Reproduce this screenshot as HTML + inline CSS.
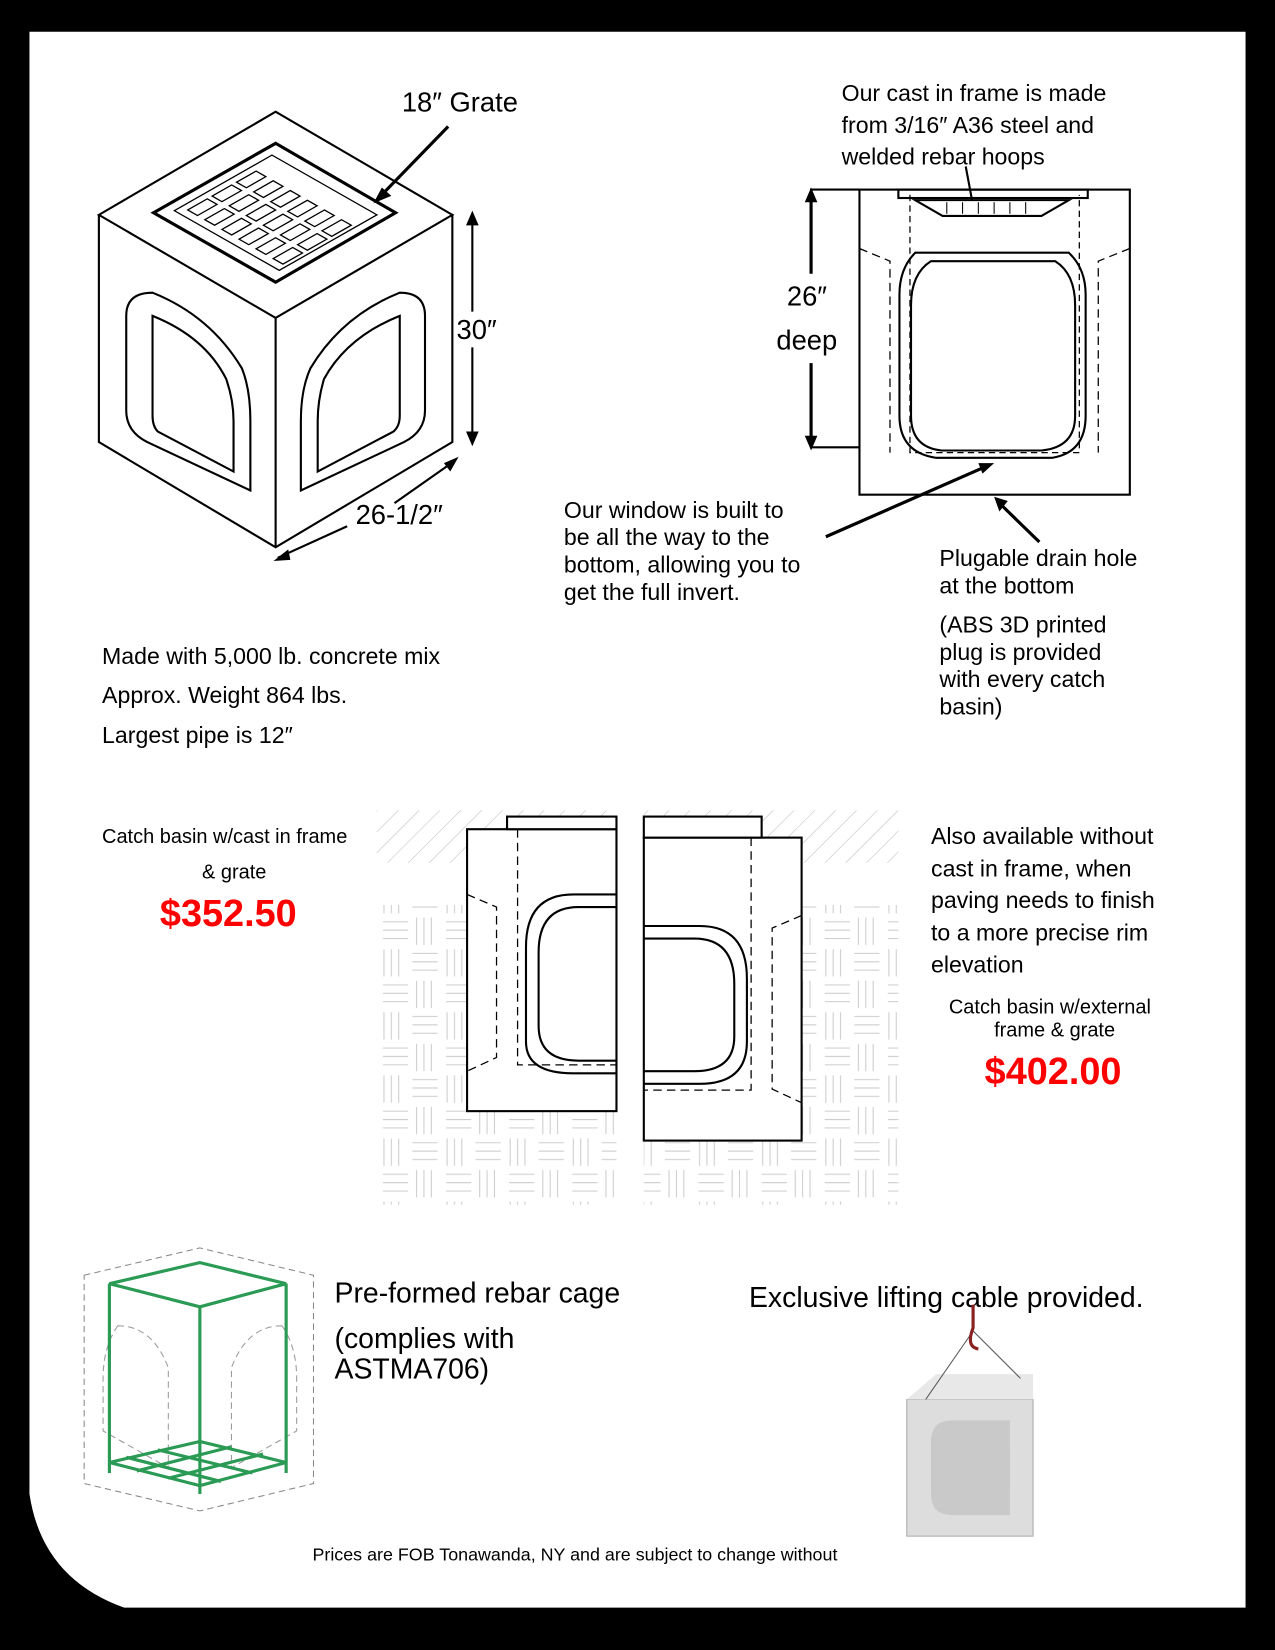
<!DOCTYPE html>
<html><head><style>
html,body{margin:0;padding:0;background:#000;}
svg{display:block}
text{font-family:"Liberation Sans",sans-serif;fill:#000}
</style></head><body>
<svg width="1275" height="1650" viewBox="0 0 1212 1568" xmlns="http://www.w3.org/2000/svg">
<defs>
<pattern id="hatch" width="14" height="14" patternUnits="userSpaceOnUse" patternTransform="rotate(45)"><line x1="0" y1="0" x2="0" y2="14" stroke="#bbb" stroke-width="1"/></pattern>
<pattern id="brick" width="60" height="60" patternUnits="userSpaceOnUse">
<g stroke="#ccc" stroke-width="1"><line x1="5" y1="2" x2="5" y2="28"/><line x1="12" y1="2" x2="12" y2="28"/><line x1="19" y1="2" x2="19" y2="28"/>
<line x1="32" y1="6" x2="56" y2="6"/><line x1="32" y1="14" x2="56" y2="14"/><line x1="32" y1="22" x2="56" y2="22"/>
<line x1="4" y1="36" x2="28" y2="36"/><line x1="4" y1="44" x2="28" y2="44"/><line x1="4" y1="52" x2="28" y2="52"/>
<line x1="36" y1="32" x2="36" y2="58"/><line x1="43" y1="32" x2="43" y2="58"/><line x1="50" y1="32" x2="50" y2="58"/></g></pattern>
</defs>
<rect width="1212" height="1568" fill="#000"/>
<path d="M28 30 H1184 V1528 H118 Q40 1500 28 1420 Z" fill="#fff"/>
<rect x="358" y="770" width="228" height="50" fill="url(#hatch)"/>
<rect x="612" y="770" width="242" height="50" fill="url(#hatch)"/>
<rect x="358" y="860" width="228" height="285" fill="url(#brick)"/>
<rect x="612" y="860" width="242" height="285" fill="url(#brick)"/>
<g fill="none" stroke="#000" stroke-width="2">
<!-- cube -->
<polygon points="94,204 262,106 430,204 262,302"/>
<polyline points="94,204 94,420 262,520 430,420 430,204"/>
<line x1="262" y1="302" x2="262" y2="520"/>
<polygon points="146,202 262,136 376,202 262,268" stroke-width="3"/>
<g transform="matrix(116,-66,116,66,146,202)" stroke-width="1.3">
<g vector-effect="non-scaling-stroke">
<rect x="0.1" y="0.07" width="0.8" height="0.86" vector-effect="non-scaling-stroke"/>
<rect x="0.16" y="0.12" width="0.16" height="0.08" vector-effect="non-scaling-stroke"/><rect x="0.36" y="0.12" width="0.16" height="0.08" vector-effect="non-scaling-stroke"/><rect x="0.56" y="0.12" width="0.16" height="0.08" vector-effect="non-scaling-stroke"/>
<rect x="0.16" y="0.26" width="0.16" height="0.08" vector-effect="non-scaling-stroke"/><rect x="0.36" y="0.26" width="0.16" height="0.08" vector-effect="non-scaling-stroke"/><rect x="0.56" y="0.26" width="0.16" height="0.08" vector-effect="non-scaling-stroke"/>
<rect x="0.16" y="0.40" width="0.16" height="0.08" vector-effect="non-scaling-stroke"/><rect x="0.36" y="0.40" width="0.16" height="0.08" vector-effect="non-scaling-stroke"/><rect x="0.56" y="0.40" width="0.16" height="0.08" vector-effect="non-scaling-stroke"/>
<rect x="0.16" y="0.54" width="0.16" height="0.08" vector-effect="non-scaling-stroke"/><rect x="0.36" y="0.54" width="0.16" height="0.08" vector-effect="non-scaling-stroke"/><rect x="0.56" y="0.54" width="0.16" height="0.08" vector-effect="non-scaling-stroke"/>
<rect x="0.16" y="0.68" width="0.16" height="0.08" vector-effect="non-scaling-stroke"/><rect x="0.36" y="0.68" width="0.16" height="0.08" vector-effect="non-scaling-stroke"/><rect x="0.56" y="0.68" width="0.16" height="0.08" vector-effect="non-scaling-stroke"/>
<rect x="0.16" y="0.82" width="0.16" height="0.08" vector-effect="non-scaling-stroke"/><rect x="0.36" y="0.82" width="0.16" height="0.08" vector-effect="non-scaling-stroke"/><rect x="0.56" y="0.82" width="0.16" height="0.08" vector-effect="non-scaling-stroke"/>
</g></g>
<path d="M120 300 Q120 278 145 278 Q200 300 230 350 Q238 370 238 400 V466 L140 420 Q120 410 120 390 Z"/>
<path d="M145 300 Q195 320 215 360 Q222 380 222 400 V448 L150 410 Q145 405 145 395 Z"/>
<path d="M404 300 Q404 278 380 278 Q325 300 295 350 Q286 370 286 400 V466 L384 420 Q404 410 404 390 Z"/>
<path d="M380 300 Q330 320 308 360 Q302 380 302 400 V448 L374 410 Q380 405 380 395 Z"/>
<line x1="449" y1="208" x2="449" y2="296"/><line x1="449" y1="330" x2="449" y2="418"/>
<line x1="264" y1="530" x2="330" y2="500"/><line x1="375" y1="478" x2="432" y2="438"/>
<line x1="360" y1="188" x2="426" y2="120" stroke-width="3"/>
<!-- side view -->
<rect x="817" y="180" width="257" height="290"/>
<line x1="770" y1="180" x2="817" y2="180"/><line x1="770" y1="425" x2="817" y2="425"/>
<line x1="771" y1="185" x2="771" y2="260" stroke-width="3"/><line x1="771" y1="345" x2="771" y2="420" stroke-width="3"/>
<rect x="854" y="180" width="180" height="8" stroke-width="2"/>
<path d="M870 190 H1016 L990 205 H896 Z"/>
<path d="M900 192 V203 M915 192 V203 M930 192 V203 M945 192 V203 M960 192 V203 M975 192 V203" stroke-width="1"/>
<path d="M865 185 V430 H1026 V185" stroke-dasharray="6 4" stroke-width="1.2"/>
<path d="M870 240 Q855 255 855 280 V395 Q855 430 890 435 H1000 Q1032 430 1032 395 V280 Q1032 255 1016 240 Z"/>
<path d="M885 248 Q866 260 866 290 V395 Q866 425 895 428 H990 Q1022 425 1022 395 V290 Q1022 260 1003 248 Z"/>
<g stroke-dasharray="8 5" stroke-width="1.2">
<path d="M817 236 L846 248 V430"/><path d="M1074 236 L1044 248 V430"/>
</g>
<line x1="785" y1="510" x2="940" y2="442" stroke-width="3"/>
<line x1="988" y1="515" x2="950" y2="478" stroke-width="3"/>
<line x1="918" y1="158" x2="924" y2="190" stroke-width="2"/>
</g>
<g fill="#000">
<polygon points="449,200 443,214 455,214"/><polygon points="449,424 443,410 455,410"/>
<polygon points="771,178 765,192 777,192"/><polygon points="771,428 765,414 777,414"/>
<polygon points="260,533 274,522 276,532"/><polygon points="436,434 422,440 428,448"/>
<polygon points="945,440 930,440 934,450"/><polygon points="945,472 958,476 950,486"/>
<polygon points="355,193 363,178 372,186"/>
</g>
<g font-size="26"><text x="382" y="106">18″ Grate</text><text x="434" y="322">30″</text><text x="338" y="498">26-1/2″</text>
<text x="748" y="290">26″</text><text x="738" y="332">deep</text></g>
<g font-size="22">
<text x="800" y="96">Our cast in frame is made</text><text x="800" y="126">from 3/16″ A36 steel and</text><text x="800" y="156">welded rebar hoops</text>
<text x="536" y="492">Our window is built to</text><text x="536" y="518">be all the way to the</text><text x="536" y="544">bottom, allowing you to</text><text x="536" y="570">get the full invert.</text>
<text x="893" y="538">Plugable drain hole</text><text x="893" y="564">at the bottom</text>
<text x="893" y="601">(ABS 3D printed</text><text x="893" y="627">plug is provided</text><text x="893" y="653">with every catch</text><text x="893" y="679">basin)</text>
<text x="97" y="631">Made with 5,000 lb. concrete mix</text><text x="97" y="668">Approx. Weight 864 lbs.</text><text x="97" y="706">Largest pipe is 12″</text>
<text x="885" y="802">Also available without</text><text x="885" y="833">cast in frame, when</text><text x="885" y="863">paving needs to finish</text><text x="885" y="894">to a more precise rim</text><text x="885" y="924">elevation</text>
</g>
<g font-size="19"><text x="97" y="801">Catch basin w/cast in frame</text><text x="192" y="835">&amp; grate</text>
<text x="902" y="963">Catch basin w/external</text><text x="945" y="985">frame &amp; grate</text></g>
<g font-size="36" font-weight="bold"><text x="152" y="880" style="fill:#f00">$352.50</text><text x="936" y="1030" style="fill:#f00">$402.00</text></g>
<g fill="#fff" stroke="#000" stroke-width="2">
<rect x="444" y="788" width="142" height="268"/><rect x="482" y="776" width="104" height="12"/>
<rect x="612" y="796" width="150" height="288"/><rect x="612" y="776" width="112" height="20"/>
</g>
<g fill="none" stroke="#000" stroke-width="2">
<path d="M586 850 H545 Q500 850 500 900 V990 Q500 1020 545 1020 H586"/>
<path d="M586 862 H550 Q512 862 512 905 V975 Q512 1008 550 1008 H586"/>
<path d="M612 880 H665 Q710 880 710 930 V990 Q710 1030 665 1030 H612"/>
<path d="M612 892 H660 Q698 892 698 935 V985 Q698 1018 660 1018 H612"/>
<g stroke-dasharray="8 5" stroke-width="1.2"><path d="M492 788 V1012 H586"/><path d="M714 796 V1036 H612"/>
<path d="M444 850 L472 862 V1005 L444 1018"/><path d="M762 870 L734 882 V1035 L762 1048"/></g>
</g>
<g fill="none" stroke="#999" stroke-width="1" stroke-dasharray="6 4">
<path d="M112 1260 Q98 1280 98 1310 V1360 L160 1395 V1300 Q145 1260 112 1260 Z"/>
<path d="M268 1260 Q282 1280 282 1310 V1360 L220 1395 V1300 Q235 1260 268 1260 Z"/>
</g>
<g fill="none" stroke="#2a9a55" stroke-width="3">
<polygon points="104,1220 190,1200 272,1220 190,1242"/><line x1="104" y1="1220" x2="104" y2="1400"/><line x1="272" y1="1220" x2="272" y2="1400"/><line x1="190" y1="1242" x2="190" y2="1420"/>
<polygon points="104,1390 190,1370 272,1390 190,1412"/>
<line x1="120" y1="1385" x2="210" y2="1408"/><line x1="150" y1="1378" x2="240" y2="1400"/><line x1="160" y1="1405" x2="250" y2="1382"/><line x1="130" y1="1398" x2="220" y2="1375"/>
</g>
<g fill="none" stroke="#888" stroke-width="1" stroke-dasharray="6 4"><polygon points="80,1212 190,1186 298,1212 298,1410 190,1436 80,1410"/></g>
<g font-size="27"><text x="318" y="1238">Pre-formed rebar cage</text><text x="318" y="1281">(complies with</text><text x="318" y="1310">ASTMA706)</text>
<text x="712" y="1242">Exclusive lifting cable provided.</text></g>
<rect x="862" y="1330" width="120" height="130" fill="#ddd" stroke="#aaa"/>
<polygon points="862,1330 890,1306 982,1306 982,1330" fill="#e8e8e8"/>
<path d="M885 1370 Q885 1350 905 1350 H960 V1440 H905 Q885 1440 885 1420 Z" fill="#c9c9c9"/>
<path d="M925 1265 L880 1330 M925 1265 L970 1310" stroke="#555" fill="none"/>
<path d="M925 1240 V1262 Q918 1280 930 1282" stroke="#8a2020" stroke-width="3" fill="none"/>
<text x="297" y="1483" font-size="17">Prices are FOB Tonawanda, NY and are subject to change without</text>
</svg>
</body></html>
